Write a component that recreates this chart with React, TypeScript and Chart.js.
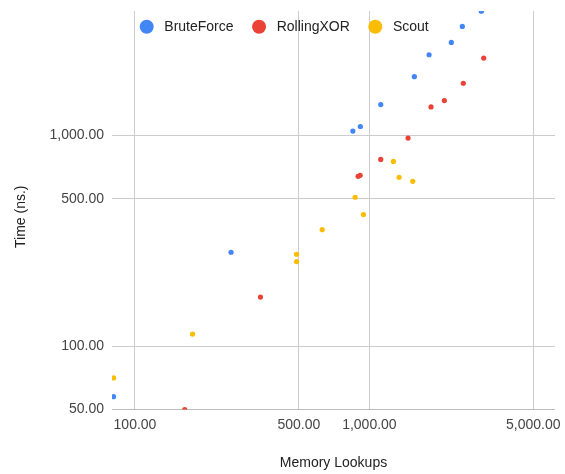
import React, { useEffect, useRef } from 'react';
import { Chart, registerables } from 'chart.js';

Chart.register(...registerables);

const seriesNames = ['BruteForce', 'RollingXOR', 'Scout'];
const seriesColors = ['#4285F4', '#EA4335', '#FBBC04'];

const bruteForceX = [81, 257, 850, 915, 1118, 1555, 1797, 2236, 2491, 3002];
const bruteForceY = [57.5, 279, 1049, 1103, 1402, 1902, 2417, 2767, 3293, 3890];
const rollingXorX = [163, 343, 895, 913, 1118, 1462, 1832, 2088, 2516, 3073];
const rollingXorY = [50, 171, 640, 647, 770, 972, 1367, 1464, 1770, 2332];
const scoutX = [81, 176, 489, 489, 629, 869, 943, 1266, 1339, 1531];
const scoutY = [70.6, 114, 252, 273, 357, 509, 421, 753, 633, 606];

const xTicks = [100, 500, 1000, 5000];
const yTicks = [50, 100, 500, 1000];
const xMin = 79.8;
const xMax = 6190;
const yMin = 50;
const yMax = 3900;

const xTitle = 'Memory Lookups';
const yTitle = 'Time (ns.)';

const FONT_FAMILY = '"Liberation Sans", Arial, sans-serif';

const fmt = (v: number) =>
  Number(v).toLocaleString('en-US', { minimumFractionDigits: 2, maximumFractionDigits: 2 });

const toPoints = (xs: number[], ys: number[]) => xs.map((x, i) => ({ x, y: ys[i] }));

const legendPlugin = {
  id: 'customLegend',
  afterDraw(chart: any) {
    const { ctx, chartArea } = chart;
    ctx.save();
    ctx.font = `14px ${FONT_FAMILY}`;
    ctx.textBaseline = 'middle';
    ctx.textAlign = 'left';
    const r = 7;
    const y = 26.7;
    let x = chartArea.left + 27.7;
    seriesNames.forEach((name, i) => {
      ctx.fillStyle = seriesColors[i];
      ctx.beginPath();
      ctx.arc(x + r, y, r, 0, Math.PI * 2);
      ctx.fill();
      const tx = x + 2 * r + 10.6;
      ctx.fillStyle = '#222222';
      ctx.fillText(name, tx, y);
      x = tx + ctx.measureText(name).width + 18.5;
    });

    // vertical axis title, slightly below the plot centre as in the reference
    const cy = (chartArea.top + chartArea.bottom) / 2 + 6.5;
    ctx.translate(21, cy);
    ctx.rotate(-Math.PI / 2);
    ctx.textAlign = 'center';
    ctx.fillStyle = '#222222';
    ctx.fillText(yTitle, 0, 0);
    ctx.restore();
  },
};

const zeroPadding = (s: any) => {
  s.paddingTop = 0;
  s.paddingBottom = 0;
  s.paddingLeft = 0;
  s.paddingRight = 0;
};

export default function App() {
  const ref = useRef<HTMLCanvasElement>(null);

  useEffect(() => {
    const datasets = [
      toPoints(bruteForceX, bruteForceY),
      toPoints(rollingXorX, rollingXorY),
      toPoints(scoutX, scoutY),
    ].map((data, i) => ({
      label: seriesNames[i],
      data,
      backgroundColor: seriesColors[i],
      borderColor: seriesColors[i],
      borderWidth: 0,
      pointRadius: 2.6,
      pointHoverRadius: 2.6,
      clip: 0,
    }));

    const chart = new Chart(ref.current!, {
      type: 'scatter',
      data: { datasets },
      options: {
        animation: false,
        responsive: false,
        events: [],
        layout: { padding: { top: 11, right: 10, left: 0, bottom: 0 } },
        plugins: {
          legend: { display: false },
          tooltip: { enabled: false },
        },
        scales: {
          x: {
            type: 'logarithmic',
            min: xMin,
            max: xMax,
            afterBuildTicks: (s: any) => {
              s.ticks = xTicks.map((v) => ({ value: v }));
            },
            afterFit: (s: any) => {
              s.height = 64.5;
              zeroPadding(s);
            },
            ticks: {
              callback: (v: any) => fmt(v),
              font: { family: FONT_FAMILY, size: 14 },
              color: '#444444',
              padding: 7,
              maxRotation: 0,
              autoSkip: false,
            },
            grid: { color: '#cccccc', drawTicks: false, lineWidth: 1 },
            border: { display: false },
            title: {
              display: true,
              text: xTitle,
              font: { family: FONT_FAMILY, size: 14 },
              color: '#222222',
              padding: { top: 0, bottom: 2.6 },
            },
          },
          y: {
            type: 'logarithmic',
            min: yMin,
            max: yMax,
            afterBuildTicks: (s: any) => {
              s.ticks = yTicks.map((v) => ({ value: v }));
            },
            afterFit: (s: any) => {
              s.width = 112;
              zeroPadding(s);
            },
            ticks: {
              callback: (v: any) => fmt(v),
              font: { family: FONT_FAMILY, size: 14 },
              color: '#444444',
              padding: 8,
              autoSkip: false,
            },
            grid: {
              color: (c: any) => (c.tick && c.tick.value === yMin ? '#bdbdbd' : '#cccccc'),
              drawTicks: false,
              lineWidth: 1,
            },
            border: { display: false },
            title: { display: false, text: yTitle },
          },
        },
      },
      plugins: [legendPlugin],
    } as any);

    return () => chart.destroy();
  }, []);

  return (
    <div style={{ position: 'absolute', left: 0, top: 0, width: 565, height: 474, background: '#ffffff' }}>
      <canvas ref={ref} width={565} height={474} style={{ display: 'block', width: 565, height: 474 }} />
    </div>
  );
}
